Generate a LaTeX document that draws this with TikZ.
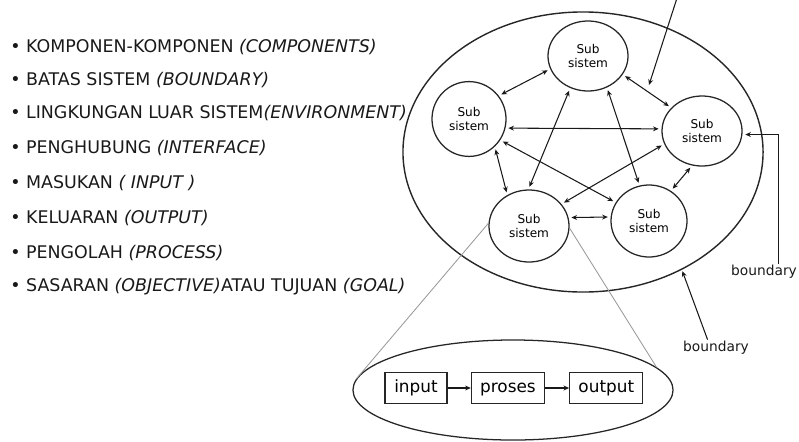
\documentclass[tikz,border=0pt]{standalone}
\usepackage{fontspec}
\setmainfont{DejaVu Sans}
\usetikzlibrary{shapes.geometric,arrows.meta,positioning}

\begin{document}
\begin{tikzpicture}[x=0.025cm,y=-0.025cm,
    tip/.style={-{Stealth[length=4pt,width=3.5pt]}},
    sub/.style={draw=black!85, line width=0.9pt, ellipse, minimum width=2cm, minimum height=1.75cm,
                align=center, inner sep=0pt, font=\fontsize{8.6}{10}\selectfont},
    link/.style={{Stealth[length=4pt,width=3.5pt]}-{Stealth[length=4pt,width=3.5pt]}, black!90,
                 line width=0.75pt, shorten <=2pt, shorten >=2pt},
    box/.style={draw=black!85, line width=0.8pt, minimum height=0.78cm, inner sep=2pt,
                text height=1.6ex, text depth=0.45ex, font=\fontsize{12}{14}\selectfont},
    item/.style={anchor=west, inner sep=0pt, font=\fontsize{12.4}{14}\selectfont, text=black!90},
    lbl/.style={font=\fontsize{9.8}{12}\selectfont, inner sep=1pt, text=black!90},
    zoomline/.style={black!40, line width=0.6pt}]
\useasboundingbox (0,0) rectangle (799,441);

% list of elements
\node[item] (it1) at (10,47) {\textbullet\ KOMPONEN-KOMPONEN \textit{(COMPONENTS)}};
\node[item] (it2) at (10,80) {\textbullet\ BATAS SISTEM \textit{(BOUNDARY)}};
\node[item] (it3) at (10,113) {\textbullet\ LINGKUNGAN LUAR SISTEM\textit{(ENVIRONMENT)}};
\node[item] (it4) at (10,148) {\textbullet\ PENGHUBUNG \textit{(INTERFACE)}};
\node[item] (it5) at (10,183) {\textbullet\ MASUKAN \textit{( INPUT )}};
\node[item] (it6) at (10,218) {\textbullet\ KELUARAN \textit{(OUTPUT)}};
\node[item] (it7) at (10,253) {\textbullet\ PENGOLAH \textit{(PROCESS)}};
\node[item] (it8) at (10,287) {\textbullet\ SASARAN \textit{(OBJECTIVE)}ATAU TUJUAN \textit{(GOAL)}};

% system with its subsystems
\node[draw=black!85, line width=1pt, ellipse, minimum width=9cm, minimum height=7cm] (sys) at (583,152) {};
\node[sub] (subT) at (588,56) {Sub\\sistem};
\node[sub, minimum width=1.85cm, minimum height=1.87cm] (subL) at (469,119) {Sub\\sistem};
\node[sub] (subR) at (702,131) {Sub\\sistem};
\node[sub, minimum height=1.8cm] (subA) at (529,226) {Sub\\sistem};
\node[sub, minimum width=1.9cm, minimum height=1.8cm] (subB) at (649,221) {Sub\\sistem};

\draw[link] (subT.199) -- (subL.38);
\draw[link] (subL.-14) -- (subR.177);
\draw[link] (subT.241) -- (subA.91);
\draw[link] (subT.-59) -- (subB.105);
\draw[link] (subT.-28) -- (subR.143);
\draw[link] (subL.-47) -- (subA.125);
\draw[link] (subL.-34) -- (subB.151);
\draw[link] (subR.199) -- (subA.34);
\draw[link] (subR.254) -- (subB.54);
\draw[link] (subA.12) -- (subB.174);

% outside arrows
\coordinate (envsrc) at (677,-2);
\coordinate (envtip) at (649,85);
\draw[tip, black!90, line width=0.75pt] (envsrc) -- (envtip);

\node[lbl] (bndR) at (764,272) {boundary};
\draw[tip, black!90, line width=0.75pt, shorten >=2pt] ([xshift=10pt]bndR.north) |- (subR.-5);

\node[lbl] (bndB) at (716,348) {boundary};
\draw[tip, black!90, line width=0.75pt, shorten >=1pt] ([xshift=-6pt]bndB.north) -- (sys.-50);

% zoom of one subsystem
\node[draw=black!85, line width=0.9pt, ellipse, minimum width=8cm, minimum height=2.5cm] (zoom) at (513,390) {};
\draw[zoomline] (subA.176) -- (zoom.176);
\draw[zoomline] (subA.-3) -- (zoom.9);

\node[box, minimum width=1.55cm] (in) at (416,388) {input};
\node[box, minimum width=1.83cm, right=0.58cm of in] (pr) {proses};
\node[box, minimum width=1.83cm, right=0.6cm of pr] (out) {output};
\draw[tip, black!90, line width=0.75pt] (in) -- (pr);
\draw[tip, black!90, line width=0.75pt] (pr) -- (out);
\end{tikzpicture}
\end{document}
